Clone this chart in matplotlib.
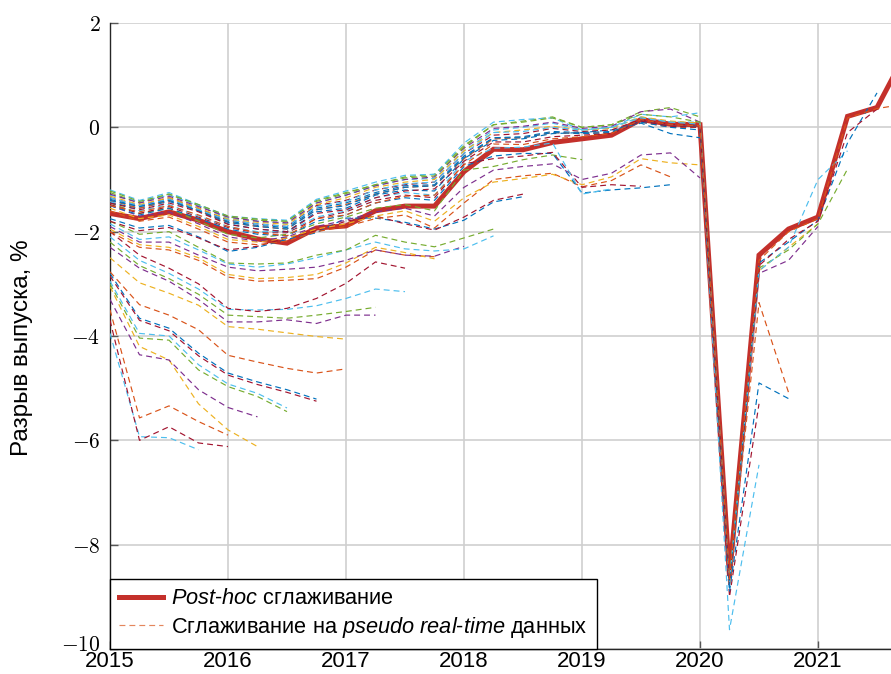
import matplotlib

matplotlib.use("Agg")
import matplotlib.pyplot as plt
import matplotlib.transforms as mtransforms
import pandas as pd
from matplotlib.ticker import FuncFormatter

# quarterly grid, 2015Q1 .. 2021Q4
QUARTERS = pd.period_range("2015Q1", "2021Q4", freq="Q")

POST_HOC = [-1.65, -1.75, -1.62, -1.78, -2.00, -2.14, -2.22, -1.93, -1.89, -1.60,
            -1.51, -1.51, -0.85, -0.42, -0.43, -0.29, -0.22, -0.15, 0.15, 0.06,
            0.05, -8.60, -2.45, -1.95, -1.72, 0.21, 0.38, 1.45]

# pseudo real-time vintages, each starts at 2015Q1 and stops at its own end quarter
early_vintages = [
    [-3.95, -5.93, -5.95, -6.18],
    [-3.70, -6.00, -5.74, -6.05, -6.12],
    [-3.50, -5.57, -5.34, -5.64, -5.90],
    [-3.05, -4.20, -4.46, -5.30, -5.80, -6.12],
    [-3.30, -4.36, -4.46, -5.03, -5.37, -5.55],
    [-3.00, -4.04, -4.08, -4.65, -4.97, -5.16, -5.45],
    [-2.95, -3.95, -4.00, -4.55, -4.92, -5.10, -5.38],
    [-2.80, -3.66, -3.85, -4.33, -4.71, -4.88, -5.03, -5.21],
    [-2.85, -3.70, -3.90, -4.38, -4.75, -4.93, -5.08, -5.25],
    [-2.77, -3.40, -3.60, -3.88, -4.37, -4.50, -4.62, -4.71, -4.63],
    [-2.50, -2.98, -3.18, -3.41, -3.82, -3.87, -3.94, -4.01, -4.06],
]

mid_vintages = [
    [-2.30, -2.70, -2.95, -3.30, -3.73, -3.73, -3.69, -3.76, -3.60, -3.60],
    [-2.20, -2.65, -2.90, -3.20, -3.60, -3.63, -3.66, -3.60, -3.53, -3.45],
    [-2.10, -2.55, -2.80, -3.10, -3.49, -3.50, -3.49, -3.42, -3.28, -3.10, -3.15],
    [-2.00, -2.45, -2.70, -3.00, -3.47, -3.53, -3.47, -3.28, -2.99, -2.58, -2.70],
    [-2.00, -2.30, -2.35, -2.55, -2.87, -2.95, -2.93, -2.90, -2.68, -2.35, -2.45, -2.48],
    [-1.95, -2.25, -2.30, -2.50, -2.82, -2.90, -2.88, -2.82, -2.60, -2.30, -2.40, -2.52],
    [-1.90, -2.20, -2.20, -2.45, -2.68, -2.75, -2.72, -2.68, -2.55, -2.35, -2.45, -2.47, -2.28],
    [-1.85, -2.15, -2.10, -2.35, -2.62, -2.68, -2.62, -2.50, -2.35, -2.20, -2.33, -2.37, -2.33, -2.08],
    [-1.80, -2.05, -2.00, -2.30, -2.60, -2.62, -2.60, -2.45, -2.35, -2.07, -2.20, -2.29, -2.12, -1.95],
    [-1.75, -1.93, -1.88, -2.10, -2.38, -2.30, -2.15, -2.02, -1.74, -1.74, -1.82, -1.95, -1.78, -1.43, -1.33],
    [-1.80, -1.98, -1.92, -2.12, -2.35, -2.28, -2.12, -1.98, -1.80, -1.70, -1.85, -1.97, -1.72, -1.40, -1.28],
]

pre_covid_vintages = [
    [-1.60, -1.80, -1.72, -1.95, -2.20, -2.25, -2.18, -2.00, -1.90, -1.75, -1.68, -1.93, -1.45, -1.00,
     -0.93, -0.88, -1.14, -1.02, -0.72, -0.95],
    [-1.55, -1.75, -1.68, -1.90, -2.15, -2.20, -2.12, -1.95, -1.85, -1.70, -1.60, -1.80, -1.35, -1.05,
     -0.98, -0.90, -1.10, -0.95, -0.60, -0.68, -0.72],
    [-1.50, -1.70, -1.62, -1.85, -2.10, -2.18, -2.10, -1.90, -1.78, -1.62, -1.55, -1.70, -1.15, -0.82,
     -0.75, -0.70, -1.00, -0.88, -0.53, -0.49, -0.97],
    [-1.45, -1.65, -1.55, -1.80, -2.05, -2.12, -2.05, -1.85, -1.72, -1.55, -1.48, -1.60, -0.82, -0.75,
     -0.62, -0.53, -0.62],
    [-1.50, -1.68, -1.55, -1.75, -1.95, -2.05, -2.08, -1.80, -1.68, -1.45, -1.35, -1.40, -0.75, -0.55,
     -0.50, -0.50, -1.26, -1.20, -1.16, -1.10],
    [-1.48, -1.65, -1.52, -1.72, -1.92, -2.02, -2.02, -1.75, -1.62, -1.40, -1.30, -1.35, -0.70, -0.60,
     -0.55, -0.48, -1.15, -1.10, -1.13],
    [-1.42, -1.60, -1.48, -1.70, -1.90, -2.00, -2.00, -1.72, -1.60, -1.35, -1.25, -1.30, -0.65, -0.40,
     -0.38, -0.30, -1.28, -1.18],
    [-1.25, -1.45, -1.28, -1.50, -1.72, -1.78, -1.80, -1.40, -1.25, -1.10, -0.95, -0.90, -0.35, 0.05,
     0.12, 0.20, 0.00, 0.05, 0.30, 0.38, 0.20],
    [-1.20, -1.40, -1.25, -1.48, -1.70, -1.75, -1.78, -1.38, -1.22, -1.05, -0.92, -0.90, -0.30, 0.10,
     0.15, 0.18, -0.05, 0.00, 0.25, 0.20, 0.28],
    [-1.45, -1.55, -1.42, -1.60, -1.85, -1.95, -2.00, -1.62, -1.55, -1.30, -1.20, -1.22, -0.60, -0.25,
     -0.22, -0.12, -0.10, -0.05, 0.08, -0.12, -0.20],
]

covid_vintages = [
    [-1.30, -1.42, -1.30, -1.50, -1.75, -1.80, -1.85, -1.45, -1.30, -1.12, -1.00, -0.98, -0.45, -0.05,
     0.00, 0.08, -0.05, 0.00, 0.20, 0.10, 0.10, -9.63, -6.47],
    [-1.35, -1.50, -1.35, -1.55, -1.78, -1.85, -1.90, -1.50, -1.40, -1.20, -1.10, -1.05, -0.50, -0.15,
     -0.12, -0.02, -0.08, -0.05, 0.15, 0.05, 0.05, -9.00, -5.30],
    [-1.38, -1.52, -1.38, -1.58, -1.80, -1.88, -1.92, -1.55, -1.45, -1.25, -1.12, -1.10, -0.55, -0.20,
     -0.18, -0.08, -0.10, -0.08, 0.12, 0.02, 0.02, -8.90, -4.90, -5.20],
    [-1.40, -1.55, -1.40, -1.60, -1.82, -1.90, -1.95, -1.58, -1.48, -1.28, -1.15, -1.12, -0.60, -0.22,
     -0.20, -0.10, -0.12, -0.10, 0.10, 0.00, 0.00, -8.70, -3.36, -5.08],
    [-1.32, -1.48, -1.35, -1.55, -1.76, -1.82, -1.86, -1.48, -1.35, -1.15, -1.05, -1.00, -0.45, -0.10,
     -0.05, 0.02, -0.05, -0.02, 0.20, 0.12, 0.08, -8.80, -2.75, -2.30, -1.85],
    [-1.28, -1.45, -1.32, -1.52, -1.72, -1.80, -1.83, -1.45, -1.30, -1.12, -1.00, -0.95, -0.40, -0.02,
     0.02, 0.10, -0.02, 0.02, 0.30, 0.35, 0.10, -8.75, -2.80, -2.55, -1.90],
    [-1.22, -1.42, -1.28, -1.48, -1.70, -1.76, -1.80, -1.42, -1.27, -1.10, -0.97, -0.93, -0.38, 0.05,
     0.10, 0.18, 0.00, 0.05, 0.25, 0.20, 0.10, -8.65, -2.70, -2.35, -1.85, -0.80],
    [-1.35, -1.50, -1.38, -1.58, -1.78, -1.85, -1.90, -1.52, -1.42, -1.20, -1.08, -1.05, -0.50, -0.10,
     -0.08, 0.00, -0.05, 0.00, 0.18, 0.10, 0.06, -8.70, -2.75, -2.30, -1.00, -0.45],
    [-1.40, -1.52, -1.40, -1.60, -1.82, -1.90, -1.95, -1.58, -1.50, -1.28, -1.15, -1.12, -0.58, -0.20,
     -0.20, -0.10, -0.12, -0.10, 0.10, 0.00, -0.05, -8.80, -2.60, -2.20, -1.78, -0.30, 0.66],
    [-1.45, -1.58, -1.45, -1.62, -1.86, -1.95, -2.00, -1.65, -1.58, -1.35, -1.22, -1.18, -0.65, -0.28,
     -0.28, -0.18, -0.15, -0.12, 0.12, 0.02, 0.00, -8.70, -2.65, -2.15, -1.80, -0.10, 0.35],
    [-1.50, -1.62, -1.50, -1.68, -1.90, -2.02, -2.08, -1.75, -1.68, -1.45, -1.32, -1.30, -0.72, -0.32,
     -0.33, -0.22, -0.18, -0.12, 0.15, 0.05, 0.03, -8.65, -2.55, -2.00, -1.75, 0.18, 0.36, 0.45],
]

YEAR_TICKS = [2015, 2016, 2017, 2018, 2019, 2020, 2021]
GAP_TICKS = [-10, -8, -6, -4, -2, 0, 2]
LEGEND_LABELS = [r"$Post$-$hoc$ сглаживание",
                 r"Сглаживание на $pseudo$ $real$-$time$ данных"]
Y_LABEL = "Разрыв выпуска, %"

# MATLAB default colour order
BLUE, ORANGE, YELLOW, PURPLE = "#0072BD", "#D95319", "#EDB120", "#7E2F8E"
GREEN, CYAN, DARKRED = "#77AC30", "#4DBEEE", "#A2142F"

plt.rcParams["font.family"] = ["Liberation Sans", "DejaVu Sans"]
plt.rcParams["mathtext.fontset"] = "custom"
plt.rcParams["mathtext.rm"] = "cmr10"
plt.rcParams["mathtext.it"] = "Liberation Sans:italic"
plt.rcParams["mathtext.fallback"] = "cm"
plt.rcParams["axes.unicode_minus"] = True

x = QUARTERS.year + (QUARTERS.quarter - 1) / 4.0

fig = plt.figure(figsize=(8.91, 6.74), dpi=100)
ax = fig.add_axes([110 / 891, 25 / 674, 781 / 891, 626 / 674])

red = "#C4302B"
ax.plot(x[:len(POST_HOC)], POST_HOC, color=red, linewidth=3.6, zorder=3,
        solid_joinstyle="miter", label=LEGEND_LABELS[0])

groups = [
    (early_vintages, [CYAN, DARKRED, ORANGE, YELLOW, PURPLE, GREEN, CYAN, BLUE, DARKRED, ORANGE, YELLOW]),
    (mid_vintages, [PURPLE, GREEN, CYAN, DARKRED, ORANGE, YELLOW, PURPLE, CYAN, GREEN, BLUE, DARKRED]),
    (pre_covid_vintages, [ORANGE, YELLOW, PURPLE, GREEN, BLUE, DARKRED, CYAN, GREEN, CYAN, BLUE]),
    (covid_vintages, [CYAN, DARKRED, BLUE, ORANGE, YELLOW, PURPLE, GREEN, CYAN, BLUE, DARKRED, ORANGE]),
]
for series_list, colors in groups:
    for values, color in zip(series_list, colors):
        ax.plot(x[:len(values)], values, color=color, linewidth=0.85,
                dashes=(5.0, 3.4), zorder=4)

# legend proxy for the dashed vintages
ax.plot([], [], color=ORANGE, linewidth=0.85, dashes=(5.0, 3.4), alpha=0.7, label=LEGEND_LABELS[1])

ax.set_xlim(2015, 2015 + 781 / 118)
ax.set_ylim(-10, 2)
ax.set_xticks(YEAR_TICKS)
ax.set_xticklabels([str(y) for y in YEAR_TICKS])
ax.set_yticks(GAP_TICKS)
ax.yaxis.set_major_formatter(FuncFormatter(lambda v, _: rf"${v:.0f}$"))

ax.grid(True, color="#cfcfcf", linewidth=1.2)
ax.set_axisbelow(True)
for side in ("top", "right"):
    ax.spines[side].set_visible(False)
for side in ("left", "bottom"):
    ax.spines[side].set_color("#262626")
    ax.spines[side].set_linewidth(1.0)

ax.tick_params(axis="y", direction="in", length=6, width=1.0, color="#555555",
               labelsize=15.5, pad=7)
ax.tick_params(axis="x", direction="in", length=6, width=1.0, color="#555555",
               labelsize=16, pad=1.5)

# lift the bottom "-10" label a touch so it clears the "2015" label
bottom_label = ax.yaxis.get_major_ticks()[0].label1
bottom_label.set_transform(bottom_label.get_transform()
                           + mtransforms.ScaledTranslation(0, 4 / 72, fig.dpi_scale_trans))

ax.set_ylabel(Y_LABEL, fontsize=17.5)
ax.yaxis.set_label_coords(-0.098, 0.482)

leg = ax.legend(loc="lower left", borderaxespad=0, fancybox=False, framealpha=1,
                edgecolor="black", fontsize=15.7, handlelength=2.0, handletextpad=0.4,
                borderpad=0.42, labelspacing=0.25)
leg.get_frame().set_linewidth(1.0)
leg.set_zorder(10)

fig.savefig("out.png", dpi=100)
